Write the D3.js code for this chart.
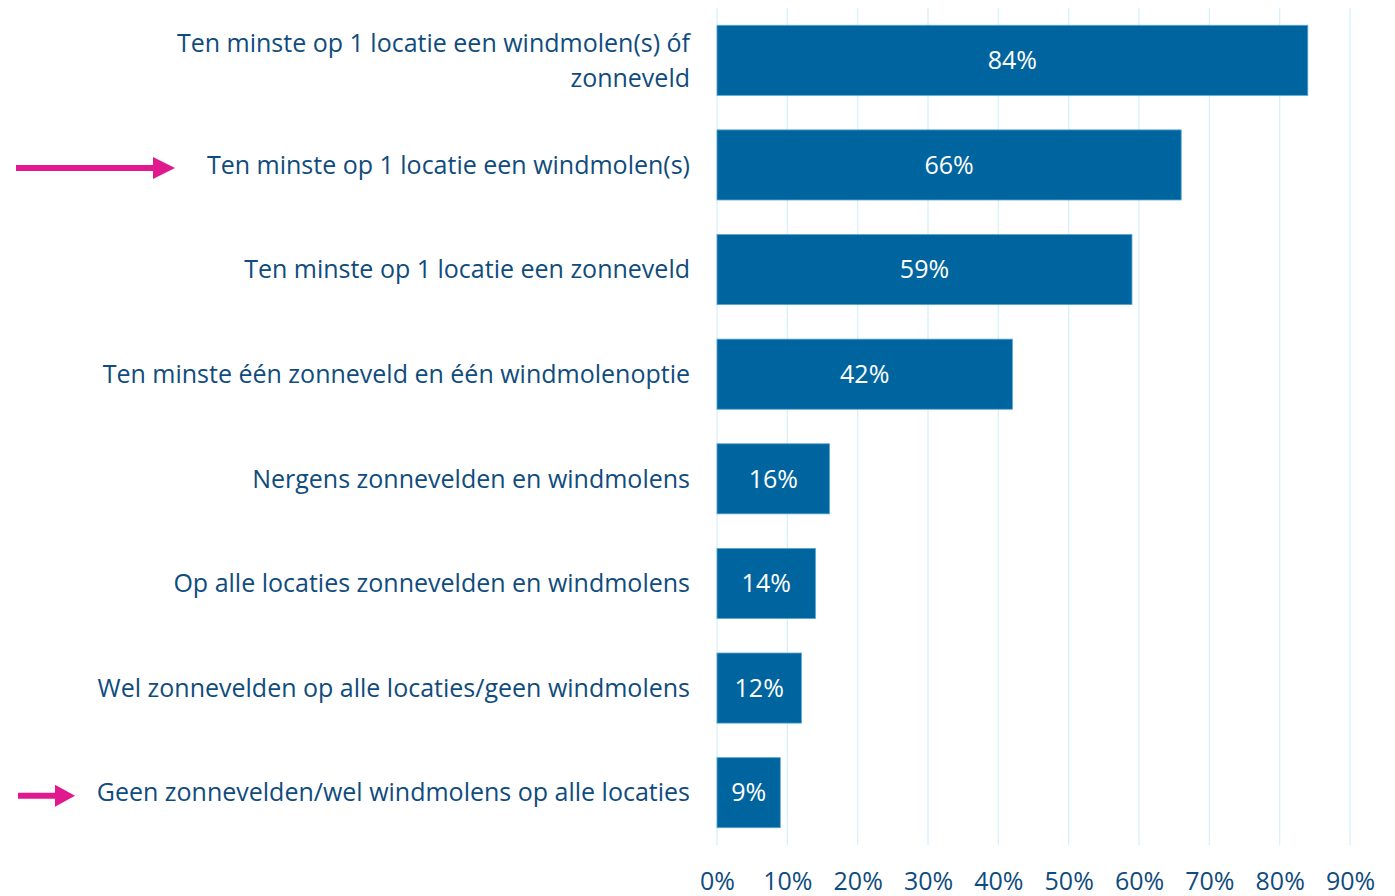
<!DOCTYPE html>
<html><head><meta charset="utf-8">
<script src="https://cdn.jsdelivr.net/npm/d3@7"></script>
<style>body{margin:0;background:#fff}svg{display:block}</style>
</head><body>
<svg id="c" width="1395" height="896"></svg>
<script>
const categories = [
  ["Ten minste op 1 locatie een windmolen(s) óf", "zonneveld"],
  ["Ten minste op 1 locatie een windmolen(s)"],
  ["Ten minste op 1 locatie een zonneveld"],
  ["Ten minste één zonneveld en één windmolenoptie"],
  ["Nergens zonnevelden en windmolens"],
  ["Op alle locaties zonnevelden en windmolens"],
  ["Wel zonnevelden op alle locaties/geen windmolens"],
  ["Geen zonnevelden/wel windmolens op alle locaties"]
];
const values = [84, 66, 59, 42, 16, 14, 12, 9];
const tickValues = [0, 10, 20, 30, 40, 50, 60, 70, 80, 90];
const arrowRows = [1, 7];

const FONT = "'Open Sans', Lato, sans-serif";
const FS = 25;
const svg = d3.select("#c");
const x = d3.scaleLinear().domain([0, 90]).range([717, 1350]);
const y = d3.scaleBand().domain(d3.range(values.length)).range([8, 845]).paddingInner(0.33).paddingOuter(0.165);

// grid
svg.append("g").selectAll("line").data(tickValues).join("line")
  .attr("x1", d => x(d)).attr("x2", d => x(d))
  .attr("y1", 8).attr("y2", 845)
  .attr("stroke", "#d6f1fb").attr("stroke-width", 1.3);

// bars
svg.append("g").selectAll("rect").data(values).join("rect")
  .attr("x", x(0)).attr("y", (d, i) => y(i))
  .attr("width", d => x(d) - x(0)).attr("height", y.bandwidth())
  .attr("fill", "#00659f").attr("stroke", "#5aa6d2").attr("stroke-width", 0.8);

// value labels
svg.append("g").selectAll("text").data(values).join("text")
  .attr("x", d => (x(d) + x(0)) / 2).attr("y", (d, i) => y(i) + y.bandwidth() / 2)
  .attr("dy", "0.35em").attr("text-anchor", "middle")
  .attr("fill", "#fff").attr("font-family", FONT).attr("font-size", FS)
  .text(d => d + "%");

// category labels
const lab = svg.append("g").selectAll("text").data(categories).join("text")
  .attr("text-anchor", "end").attr("fill", "#0f4c7d")
  .attr("font-family", FONT).attr("font-size", FS)
  .attr("y", (d, i) => y(i) + y.bandwidth() / 2 - (d.length - 1) * 17.5);
lab.selectAll("tspan").data(d => d).join("tspan")
  .attr("x", 690).attr("dy", (d, j) => j === 0 ? "0.35em" : 35).text(d => d);

// x axis ticks
const ax = svg.append("g").attr("transform", "translate(0,845)")
  .call(d3.axisBottom(x).tickValues(tickValues).tickFormat(d => d + "%").tickSize(0).tickPadding(27));
ax.select(".domain").remove();
ax.selectAll("text").attr("fill", "#0f4c7d").attr("font-family", FONT).attr("font-size", FS);

// arrows
const arrowSpecs = [{x0: 16, x1: 175, headLen: 22}, {x0: 18, x1: 75, headLen: 20}];
arrowRows.forEach((r, k) => {
  const a = arrowSpecs[k];
  const cy = y(r) + y.bandwidth() / 2 + 3;
  svg.append("line").attr("x1", a.x0).attr("x2", a.x1 - a.headLen + 1)
    .attr("y1", cy).attr("y2", cy).attr("stroke", "#e0198f").attr("stroke-width", 6);
  svg.append("path")
    .attr("d", `M${a.x1 - a.headLen},${cy - 11}L${a.x1},${cy}L${a.x1 - a.headLen},${cy + 11}Z`)
    .attr("fill", "#e0198f");
});
</script>
</body></html>
